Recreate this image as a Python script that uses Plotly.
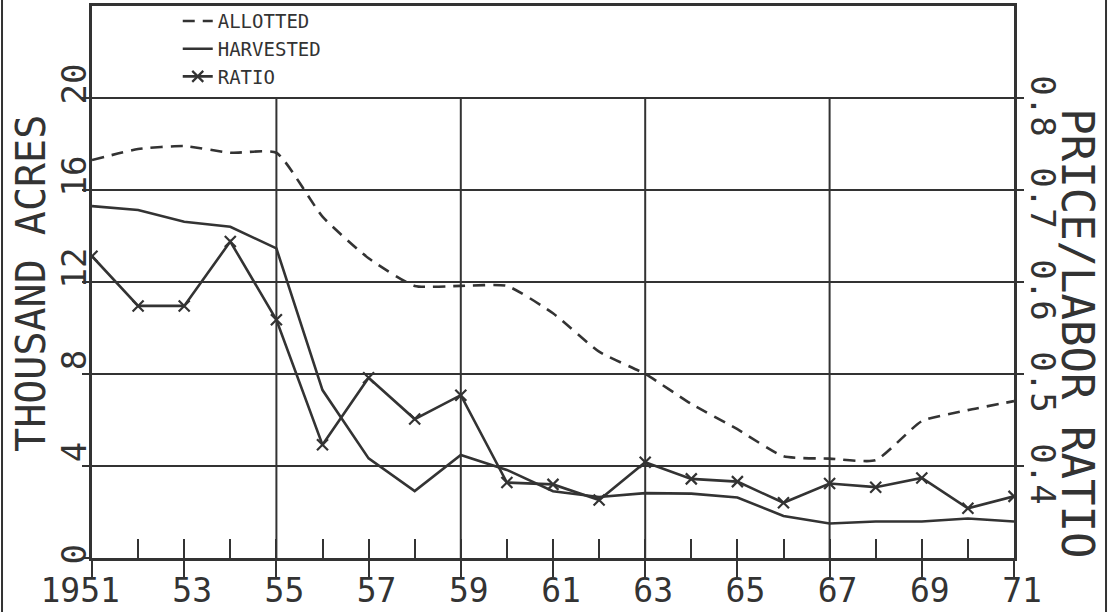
import plotly.graph_objects as go

# ---------------- data ----------------
years = list(range(1951, 1972))
allotted = [17.3, 17.78, 17.91, 17.62, 17.62, 14.84, 13.03, 11.83, 11.83, 11.83,
            10.64, 8.97, 8.0, 6.7, 5.6, 4.42, 4.32, 4.25, 5.95, 6.43, 6.82]
harvested = [15.3, 15.13, 14.62, 14.4, 13.46, 7.3, 4.33, 2.91, 4.48, 3.83,
             2.9, 2.65, 2.82, 2.80, 2.63, 1.83, 1.50, 1.59, 1.59, 1.72, 1.59]
ratio = [0.628, 0.574, 0.574, 0.644, 0.559, 0.423, 0.496, 0.451, 0.477, 0.382,
         0.380, 0.363, 0.404, 0.386, 0.383, 0.360, 0.381, 0.377, 0.387, 0.354, 0.367]

x_label_years = list(range(1951, 1972, 2))
x_label_text = ["1951\u00a0\u00a0", "53", "55", "57", "59", "61", "63", "65", "67", "69", "71"]
grid_years = [1955, 1959, 1963, 1967]
left_ticks = [0, 4, 8, 12, 16, 20]
left_text = ["0\u00a0", "4", "8", "12", "16", "20"]
right_ticks = [0.4, 0.5, 0.6, 0.7, 0.8]
right_text = ["0.4", "0.5", "0.6", "0.7", "0.8"]

INK = "#333333"
FONT = "DejaVu Sans Mono"

fig = go.Figure()
fig.add_trace(go.Scatter(x=years, y=allotted, name="ALLOTTED", mode="lines",
                         line=dict(color=INK, width=2.6, dash="12px,8px", shape="spline", smoothing=0.5),
                         xaxis="x", yaxis="y"))
fig.add_trace(go.Scatter(x=years, y=harvested, name="HARVESTED", mode="lines",
                         line=dict(color=INK, width=2.6), xaxis="x2", yaxis="y"))
fig.add_trace(go.Scatter(x=years, y=ratio, name="RATIO", mode="lines+markers",
                         line=dict(color=INK, width=2.6),
                         marker=dict(symbol="x-thin", size=11, line=dict(color=INK, width=2.2)),
                         xaxis="x", yaxis="y2"))

for yr in grid_years:
    fig.add_shape(type="line", xref="x", yref="y", x0=yr, x1=yr, y0=0, y1=max(left_ticks),
                  line=dict(color=INK, width=2), layer="below")

# outer frame lines of the scanned page
for px in (-0.0976, 1.0998):
    fig.add_shape(type="line", xref="paper", yref="paper", x0=px, x1=px, y0=-0.12, y1=1.02,
                  line=dict(color=INK, width=2))

fig.update_layout(
    width=1110, height=612,
    margin=dict(l=92, r=96, t=6, b=54, autoexpand=False),
    paper_bgcolor="white", plot_bgcolor="white",
    font=dict(family=FONT, color=INK),
    showlegend=True,
    legend=dict(x=0.093, y=1.007, xanchor="left", yanchor="top", bgcolor="rgba(0,0,0,0)",
                font=dict(size=19, family=FONT, color=INK), itemwidth=30,
                tracegroupgap=0),
    xaxis=dict(range=[1951, 1971], tickvals=years, ticks="inside", ticklen=19, tickwidth=2,
               tickcolor=INK, showticklabels=False, showgrid=False, zeroline=False,
               showline=True, linewidth=2.6, linecolor=INK, mirror=True, automargin=False),
    xaxis2=dict(range=[1951, 1971], overlaying="x", anchor="y", side="bottom",
                tickvals=x_label_years, ticktext=x_label_text, ticks="outside", ticklen=18,
                tickwidth=2, tickcolor=INK, showgrid=False, zeroline=False, showline=False,
                tickfont=dict(size=33, family=FONT, color=INK), ticklabelshift=8,
                ticklabelstandoff=-15, automargin=False),
    yaxis=dict(range=[0, 24], tickvals=left_ticks, ticktext=left_text, ticks="outside",
               ticklen=7, tickwidth=2, tickcolor=INK, showgrid=True, gridcolor=INK,
               gridwidth=2, zeroline=False, showline=True, linewidth=2.6, linecolor=INK,
               tickangle=-90, tickfont=dict(size=34, family=FONT, color=INK),
               ticklabelshift=-9, ticklabelstandoff=-17, automargin=False),
    yaxis2=dict(range=[0.3, 0.9], overlaying="y", side="right", anchor="x",
                tickvals=right_ticks, ticktext=right_text, ticks="outside", ticklen=7,
                tickwidth=2, tickcolor=INK, showgrid=False, zeroline=False, showline=True,
                linewidth=2.6, linecolor=INK, tickangle=90,
                tickfont=dict(size=34, family=FONT, color=INK), ticklabelshift=13,
                ticklabelstandoff=-6, automargin=False),
)

fig.add_annotation(text="THOUSAND ACRES", xref="paper", yref="paper", x=-0.067, y=0.497,
                   textangle=-90, showarrow=False, xanchor="center", yanchor="middle",
                   font=dict(size=40, family=FONT, color=INK))
fig.add_annotation(text="PRICE/LABOR RATIO", xref="paper", yref="paper", x=1.069, y=0.408,
                   textangle=90, showarrow=False, xanchor="center", yanchor="middle",
                   font=dict(size=44, family=FONT, color=INK))

fig.write_html("out.html", config={"displayModeBar": False},
               post_script="document.body.style.margin='0';")
